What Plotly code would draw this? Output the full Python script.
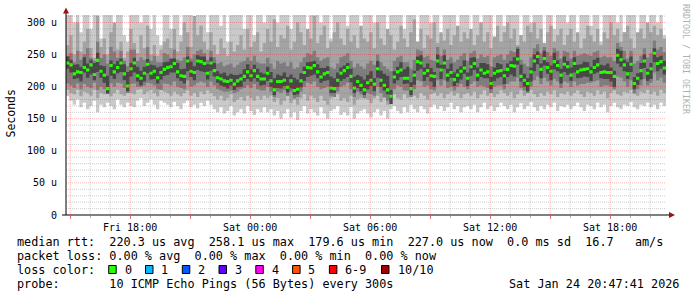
import plotly.graph_objects as go
from datetime import datetime, timedelta

# ---------------- data ----------------
start_time = datetime(2026, 1, 23, 14, 47, 41)
step_minutes = 10

median = [
    237,234,220,223,222,230,226,234,219,241,224,218,197,233,223,230,237,220,201,228,237,217,213,221,235,221,224,214,222,227,
    230,231,236,223,217,216,240,224,222,240,239,236,221,237,225,214,212,209,208,210,204,209,212,216,223,217,225,216,212,212,
    221,209,195,208,208,210,199,209,194,196,209,222,230,229,233,223,215,220,222,198,197,210,221,225,230,216,198,208,202,195,
    206,210,204,228,210,202,195,185,215,223,226,213,213,197,218,239,237,221,225,217,216,240,226,237,218,222,211,218,224,229,
    213,231,236,218,226,221,223,205,221,224,225,217,227,233,232,243,216,210,205,223,240,247,227,244,230,224,239,233,218,235,
    231,218,236,223,226,227,228,223,230,234,222,223,222,222,216,249,242,234,220,235,205,213,225,240,221,228,252,236,239,229,
]

# outer smoke (min .. max ping)
smoke1_hi = [
    320,320,300,320,285,320,320,290,320,320,275,320,320,320,295,320,320,280,270,320,320,320,300,320,320,290,320,280,265,320,
    320,290,320,320,280,320,320,320,300,320,320,320,285,320,320,320,295,320,270,320,320,320,320,290,320,320,280,320,320,300,
    320,320,320,300,320,320,320,290,320,320,320,320,285,320,320,320,300,320,320,275,320,320,320,320,295,320,320,320,285,320,
    320,320,300,320,320,320,285,320,320,320,320,290,320,320,320,270,320,320,320,300,320,320,280,320,320,320,320,295,320,320,
    320,285,320,320,300,320,320,320,275,320,320,295,320,320,320,320,280,320,320,300,320,320,320,265,320,320,290,320,320,320,
    300,320,320,280,320,320,320,295,320,320,270,320,320,320,320,300,320,285,320,320,320,260,320,320,290,320,320,300,320,280,
]
smoke1_lo = [
    185,178,172,180,168,175,165,170,178,160,172,168,175,170,165,180,172,168,175,170,168,178,182,170,175,180,172,165,178,175,
    172,168,176,170,165,174,178,168,172,166,175,170,178,172,165,160,168,158,162,170,155,160,165,158,170,162,156,165,160,168,
    160,165,155,162,150,158,165,152,160,148,162,170,158,165,160,155,168,158,150,162,165,170,156,160,155,168,150,158,162,165,
    158,152,160,165,155,162,150,165,170,162,158,168,160,172,165,160,170,165,158,168,172,165,170,162,168,175,165,170,160,168,
    170,165,172,160,168,175,165,170,162,168,175,170,165,172,160,168,174,165,170,176,168,162,170,165,172,168,175,162,170,168,
    172,165,170,175,168,162,172,170,165,175,168,172,160,170,175,168,165,172,170,176,168,165,172,170,175,168,172,165,175,170,
]
# second smoke band
smoke2_hi = [
    265,280,250,300,255,270,290,260,245,310,262,275,250,285,300,258,270,245,255,290,268,252,280,260,295,250,265,248,258,270,
    275,260,290,255,270,300,285,262,310,280,295,270,258,285,265,250,275,260,248,270,255,265,280,258,290,262,270,285,255,268,
    290,270,305,262,280,275,295,258,270,300,285,265,290,275,310,268,280,295,260,270,285,300,275,265,290,270,280,260,295,275,
    270,285,260,300,275,265,290,280,258,270,295,275,262,285,305,270,290,260,280,275,300,268,285,272,290,265,280,295,270,285,
    275,290,265,280,300,270,285,260,278,295,270,285,300,275,290,265,280,270,295,285,300,275,290,268,285,295,270,280,290,265,
    280,290,270,285,260,275,295,280,270,290,265,285,275,300,280,290,270,285,295,275,260,285,290,275,300,285,295,280,290,275,
]
smoke2_lo = [
    195,190,188,195,185,192,190,186,195,182,190,188,192,185,190,195,188,186,192,190,188,195,196,188,192,195,190,185,195,192,
    190,186,192,188,185,190,194,186,190,184,192,188,194,190,185,180,186,178,182,188,176,180,184,178,186,182,178,185,180,186,
    182,186,176,182,172,178,185,174,180,172,182,188,178,186,182,176,186,178,172,182,185,188,178,182,176,186,172,180,182,186,
    180,174,182,186,176,182,172,186,188,182,180,188,182,190,186,182,190,186,180,188,190,186,190,182,188,192,186,190,182,188,
    190,186,192,182,188,194,186,190,184,188,194,190,186,192,182,188,194,186,190,195,188,184,190,186,192,188,194,184,190,188,
    192,186,190,194,188,184,192,190,186,194,188,192,182,190,194,188,186,192,190,195,188,186,192,190,195,188,192,186,195,190,
]
# third smoke band
smoke3_hi = [
    248,252,238,256,242,250,260,245,240,270,245,250,236,262,255,245,256,240,232,258,258,240,246,242,262,240,248,238,238,252,
    250,245,258,242,240,246,262,244,250,256,258,252,242,256,246,236,238,232,234,236,230,234,238,240,246,240,248,238,236,236,
    245,236,228,240,236,238,232,238,228,230,238,246,252,250,256,246,240,244,246,230,228,236,246,248,252,240,230,236,232,228,
    236,240,234,250,238,232,228,224,240,246,248,238,238,228,242,258,256,246,248,242,240,262,248,258,242,246,238,242,248,252,
    240,252,256,244,250,246,248,232,246,248,250,242,250,256,254,262,242,236,232,246,260,266,252,262,254,248,260,256,244,256,
    254,244,256,248,250,252,250,248,254,256,246,248,246,246,240,268,262,256,244,256,236,240,248,260,246,252,272,258,262,254,
]
smoke3_lo = [
    205,202,198,205,196,204,200,198,206,195,200,196,192,205,200,206,205,198,190,204,205,200,200,202,206,205,202,196,195,205,
    204,202,208,200,198,196,210,200,202,206,208,206,200,208,202,196,194,192,192,194,190,192,196,198,202,198,204,196,194,194,
    200,192,184,192,190,194,186,192,182,184,192,200,206,204,208,200,196,198,200,186,184,192,200,202,206,196,184,192,188,182,
    190,188,186,200,190,184,178,180,196,202,200,194,194,184,196,210,208,200,202,196,194,210,202,210,198,200,194,200,204,200,
    196,204,208,200,202,200,198,190,200,202,202,196,204,208,208,214,198,194,190,200,210,216,204,214,208,202,212,208,198,208,
    206,200,208,202,204,204,206,206,208,210,200,202,202,200,196,216,214,208,200,210,190,196,202,212,202,206,222,210,214,206,
]
# inner (darkest) smoke: spread above / below the median
core_up = [
    10,8,14,12,9,16,10,8,18,12,9,14,20,8,12,10,7,15,22,9,8,14,12,10,8,13,9,16,10,11,
    9,12,8,14,10,12,7,15,10,9,8,11,14,9,12,10,8,13,9,10,14,9,8,11,12,10,9,12,10,8,
    10,14,18,11,9,12,16,10,20,15,12,9,8,10,7,12,14,9,10,18,16,12,9,8,7,12,18,10,14,16,
    12,14,9,12,15,18,22,10,9,8,12,14,18,10,7,8,12,9,11,12,7,10,8,12,10,14,11,9,8,12,
    9,14,10,12,11,16,12,10,9,13,10,8,9,7,14,16,18,10,8,7,10,8,9,12,8,9,14,8,10,12,
    9,12,10,11,9,12,10,8,12,11,12,10,14,8,9,10,14,8,18,12,10,8,12,10,7,9,8,10,9,11,
]
core_down = [
    9,12,8,10,14,8,12,15,9,18,10,12,8,16,11,9,14,10,8,12,15,9,11,13,14,10,12,9,11,10,
    12,9,14,10,8,11,16,9,12,14,15,13,10,12,9,8,10,9,11,8,9,10,12,8,11,9,12,8,10,9,
    12,9,8,10,11,9,8,12,7,8,10,13,15,12,14,10,9,11,12,8,7,10,12,13,15,9,8,10,9,8,
    10,9,11,14,10,8,7,12,10,13,11,9,8,10,15,14,9,12,10,9,16,11,14,9,10,8,10,12,13,9,
    12,14,10,9,11,8,10,9,12,11,10,13,12,14,16,9,8,10,12,15,16,12,14,11,10,14,12,9,13,12,
    13,9,14,10,12,11,13,14,10,12,9,11,10,14,16,13,11,10,8,12,9,10,14,11,12,16,14,12,11,10,
]

tick_labels = ["Fri 18:00", "Sat 00:00", "Sat 06:00", "Sat 12:00", "Sat 18:00"]
y_tick_values = [0, 50, 100, 150, 200, 250, 300]
y_tick_labels = ["0", "50 u", "100 u", "150 u", "200 u", "250 u", "300 u"]

legend_lines = [
    "median rtt:  220.3 us avg  258.1 us max  179.6 us min  227.0 us now  0.0 ms sd  16.7   am/s",
    "packet loss: 0.00 % avg  0.00 % max  0.00 % min  0.00 % now",
    "loss color:",
    "probe:       10 ICMP Echo Pings (56 Bytes) every 300s",
]
loss_labels = ["0", "1", "2", "3", "4", "5", "6-9", "10/10"]
loss_colors = ["#26ff00", "#00b8ff", "#0059ff", "#5e00ff", "#ff00f7", "#ff5500", "#ff0000", "#a10000"]
timestamp = "Sat Jan 24 20:47:41 2026"

# ---------------- geometry ----------------
W, H = 697, 297
L, R, T, B = 66, 31, 15, 82
PW, PH = W - L - R, H - T - B
Y_MAX = 311.7
MONO = "DejaVu Sans Mono"
MINOR_GRID = "rgba(110,110,110,0.32)"
MAJOR_GRID = "rgba(255,0,0,0.30)"

def px(x):
    return (x - L) / PW

def py(y):
    return (T + PH - y) / PH

n = len(median)
step = timedelta(minutes=step_minutes)
edges = [start_time + i * step for i in range(n + 1)]
end_time = start_time + timedelta(hours=30)

fig = go.Figure()

def add_band(lo, hi, color):
    ylo = list(lo) + [lo[-1]]
    yhi = list(hi) + [hi[-1]]
    fig.add_trace(go.Scatter(x=edges, y=ylo, mode="lines", line=dict(width=0, shape="hv"),
                             hoverinfo="skip", showlegend=False))
    fig.add_trace(go.Scatter(x=edges, y=yhi, mode="lines", line=dict(width=0, shape="hv"),
                             fill="tonexty", fillcolor=color, hoverinfo="skip", showlegend=False))

add_band(smoke1_lo, smoke1_hi, "#cacaca")
add_band(smoke2_lo, smoke2_hi, "#a4a4a4")
add_band(smoke3_lo, smoke3_hi, "#7e7e7e")
core_lo = [m - d for m, d in zip(median, core_down)]
core_hi = [m + u for m, u in zip(median, core_up)]
add_band(core_lo, core_hi, "#474747")
half = 2.4
add_band([m - half for m in median], [m + half for m in median], "#26ff00")

shapes = []
# vertical grid (hourly, red every 3 h)
t = datetime(2026, 1, 23, 15, 0, 0)
while t < end_time:
    major = t.hour % 3 == 0
    shapes.append(dict(type="line", xref="x", yref="paper", x0=t, x1=t, y0=0, y1=1,
                       line=dict(color=MAJOR_GRID if major else MINOR_GRID,
                                 width=1, dash="1px,1px"), layer="above"))
    t += timedelta(hours=1)
# horizontal grid (every 10, red every 50)
for v in range(10, 320, 10):
    if v > Y_MAX:
        break
    major = v % 50 == 0
    shapes.append(dict(type="line", xref="paper", yref="y", x0=0, x1=1, y0=v, y1=v,
                       line=dict(color=MAJOR_GRID if major else MINOR_GRID,
                                 width=1, dash="1px,1px"), layer="above"))
# axes
shapes.append(dict(type="line", xref="paper", yref="paper", x0=px(62), x1=px(671), y0=0, y1=0,
                   line=dict(color="#000000", width=1), layer="above"))
shapes.append(dict(type="line", xref="paper", yref="paper", x0=0, x1=0, y0=0, y1=py(11),
                   line=dict(color="#000000", width=1), layer="above"))
# arrows
shapes.append(dict(type="path", xref="paper", yref="paper",
                   path=f"M {px(669)} {py(212)} L {px(675)} {py(215)} L {px(669)} {py(218)} Z",
                   fillcolor="#a01010", line=dict(width=0), layer="above"))
shapes.append(dict(type="path", xref="paper", yref="paper",
                   path=f"M {px(63)} {py(13.5)} L {px(66)} {py(7.5)} L {px(69)} {py(13.5)} Z",
                   fillcolor="#a01010", line=dict(width=0), layer="above"))

annotations = []
annotations.append(dict(text="Seconds", x=px(10.5), y=py(114), xref="paper", yref="paper",
                        xanchor="center", yanchor="middle",
                        showarrow=False, textangle=-90, font=dict(family=MONO, size=11.5, color="#000")))
annotations.append(dict(text="RRDTOOL / TOBI OETIKER", x=px(686), y=py(59), xref="paper", yref="paper",
                        xanchor="center", yanchor="middle",
                        showarrow=False, textangle=90, font=dict(family=MONO, size=8.3, color="#b0b0b0")))

line_y = [241.5, 255.5, 269.5, 283.5]
for txt, yy in zip(legend_lines, line_y):
    annotations.append(dict(text=txt.replace(" ", "&nbsp;"), x=px(15), y=py(yy), xref="paper", yref="paper",
                            xanchor="left", yanchor="middle", showarrow=False,
                            font=dict(family=MONO, size=11.8, color="#000")))
annotations.append(dict(text=timestamp, x=px(681), y=py(283.5), xref="paper", yref="paper",
                        xanchor="right", yanchor="middle", showarrow=False,
                        font=dict(family=MONO, size=11.8, color="#000")))

box_x = [108.7, 145.5, 182.3, 219.0, 255.8, 292.6, 329.4, 381.5]
label_x = [122.5, 159.3, 196.1, 232.8, 269.6, 306.4, 343.2, 395.5]
for bx, lx, lab, col in zip(box_x, label_x, loss_labels, loss_colors):
    shapes.append(dict(type="rect", xref="paper", yref="paper",
                       x0=px(bx), x1=px(bx + 7.5), y0=py(273.5), y1=py(265.5),
                       fillcolor=col, line=dict(color="#000000", width=1)))
    annotations.append(dict(text=lab, x=px(lx), y=py(269.5), xref="paper", yref="paper",
                            xanchor="left", yanchor="middle", showarrow=False,
                            font=dict(family=MONO, size=11.8, color="#000")))

major_ticks = [datetime(2026, 1, 23, 15) + timedelta(hours=3 * i) for i in range(10)]
tick_text = []
li = 0
for i, tv in enumerate(major_ticks):
    if i % 2 == 1:
        tick_text.append(tick_labels[li]); li += 1
    else:
        tick_text.append("")

fig.update_layout(
    width=W, height=H,
    margin=dict(l=L, r=R, t=T, b=B, pad=0),
    paper_bgcolor="#ffffff", plot_bgcolor="#ffffff",
    showlegend=False,
    shapes=shapes, annotations=annotations,
    xaxis=dict(type="date", range=[start_time, end_time], showgrid=False, zeroline=False,
               showline=False, tickmode="array", tickvals=major_ticks, ticktext=tick_text,
               ticks="outside", ticklen=3, tickcolor="#e07070", tickwidth=1,
               ticklabelstandoff=0,
               minor=dict(ticks="outside", ticklen=2, tickcolor="#b0b0b0", dtick=3600000,
                          tick0="2026-01-23 15:00:00", showgrid=False),
               tickfont=dict(family=MONO, size=10, color="#000")),
    yaxis=dict(range=[0, Y_MAX], showgrid=False, zeroline=False, showline=False,
               tickmode="array", tickvals=y_tick_values, ticktext=y_tick_labels,
               ticks="", ticklabelstandoff=8,
               tickfont=dict(family=MONO, size=10, color="#000")),
)

fig.write_html("out.html")
